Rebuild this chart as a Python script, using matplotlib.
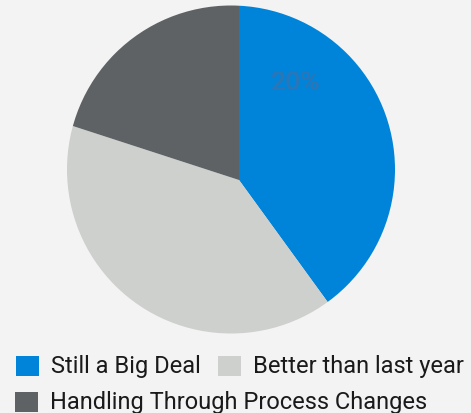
import matplotlib
matplotlib.use("Agg")
import matplotlib.pyplot as plt
from matplotlib.patches import Circle, Rectangle

# slice shares (percent) and legend entries
labels = ["Still a Big Deal", "Better than last year", "Handling Through Process Changes"]
values = [40, 40, 20]
colors = ["#0084D9", "#CED0CD", "#5E6264"]
label_text = "20%"

W, H = 471, 414
BG = "#F3F3F3"

plt.rcParams["font.family"] = ["Roboto", "DejaVu Sans"]

fig = plt.figure(figsize=(W / 100, H / 100), dpi=100, facecolor=BG)
ax = fig.add_axes([0, 0, 1, 1])
ax.set_facecolor(BG)

# wedges meet at the apex, outer rim is a circle slightly offset from it
wedges, _ = ax.pie(values, colors=colors, startangle=90, counterclock=False,
                   center=(239, H - 181), radius=230,
                   wedgeprops={"linewidth": 0})
rim = Circle((231, H - 170.5), 164, transform=ax.transData)
for w in wedges:
    w.set_clip_on(True)
    w.set_clip_path(rim)

ax.text(295, H - 83, label_text, ha="center", va="center", fontsize=19,
        fontweight="bold", color="#2976B8")

# legend laid out as a flowing row layout
rows = [(0, 16, H - 367), (1, 218, H - 367), (2, 15, H - 403)]
for i, x, y in rows:
    ax.add_patch(Rectangle((x, y - 10), 23, 20, facecolor=colors[i], edgecolor="none"))
    ax.text(x + 35, y, labels[i], ha="left", va="center", fontsize=17, color="#1A1A1A")

ax.set_xlim(0, W)
ax.set_ylim(0, H)
ax.set_aspect("auto")
ax.set_axis_off()

fig.savefig("out.png", dpi=100, facecolor=BG)
